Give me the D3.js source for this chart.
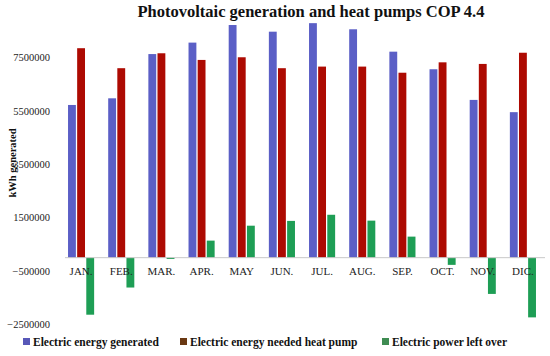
<!DOCTYPE html>
<html>
<head>
<meta charset="utf-8">
<script src="https://cdn.jsdelivr.net/npm/d3@7/dist/d3.min.js"></script>
<style>
  body { margin: 0; background: #fff; }
  svg { display: block; }
  text { font-family: "Liberation Serif", "DejaVu Serif", serif; }
</style>
</head>
<body>
<svg id="chart" width="550" height="356"></svg>
<script>
const months = ["JAN.", "FEB.", "MAR.", "APR.", "MAY", "JUN.", "JUL.", "AUG.", "SEP.", "OCT.", "NOV.", "DIC."];
const generated = [5730000, 5980000, 7640000, 8070000, 8730000, 8480000, 8800000, 8570000, 7730000, 7070000, 5920000, 5460000];
const needed    = [7860000, 7110000, 7670000, 7420000, 7520000, 7110000, 7170000, 7170000, 6940000, 7330000, 7270000, 7690000];
const leftOver  = [-2140000, -1120000, -50000, 640000, 1200000, 1380000, 1610000, 1390000, 790000, -270000, -1360000, -2240000];
const yTicks = [-2500000, -500000, 1500000, 3500000, 5500000, 7500000];
const seriesNames = ["Electric energy generated", "Electric energy needed heat pump", "Electric power left over"];

const barColors = ["#5b5fc6", "#ad0a02", "#1e9e55"];
const legendColors = ["#5858b8", "#6a3812", "#3f8c52"];

const svg = d3.select("#chart");

const x0 = d3.scaleBand().domain(months).range([61, 543]).paddingInner(0.35).paddingOuter(0.175);
const x1 = d3.scaleBand().domain([0, 1, 2]).range([0, x0.bandwidth()]).paddingInner(0.14);
const y = d3.scaleLinear().domain([-2500000, 9500000]).range([324.3, 4.5]);

const series = [generated, needed, leftOver];
const rows = months.map((m, i) => ({ m, vals: series.map(s => s[i]) }));

// Title
svg.append("text")
  .attr("x", 311).attr("y", 17)
  .attr("text-anchor", "middle")
  .attr("font-weight", "bold")
  .attr("font-size", 16.5)
  .attr("fill", "#111")
  .text("Photovoltaic generation and heat pumps COP 4.4");

// Y tick labels
svg.append("g").selectAll("text").data(yTicks).join("text")
  .attr("x", 50)
  .attr("y", d => y(d))
  .attr("dy", "0.35em")
  .attr("text-anchor", "end")
  .attr("font-size", 10.5)
  .attr("fill", "#222")
  .text(d => d3.format("d")(d));

// Y axis title
svg.append("text")
  .attr("transform", `translate(16,${163}) rotate(-90)`)
  .attr("text-anchor", "middle")
  .attr("font-weight", "bold")
  .attr("font-size", 10.5)
  .attr("fill", "#111")
  .text("kWh generated");

// Bars
const groups = svg.append("g").selectAll("g").data(rows).join("g")
  .attr("transform", d => `translate(${x0(d.m)},0)`);

groups.selectAll("rect").data(d => d.vals.map((v, k) => ({ v, k }))).join("rect")
  .attr("x", d => x1(d.k))
  .attr("width", x1.bandwidth())
  .attr("y", d => y(Math.max(0, d.v)))
  .attr("height", d => Math.abs(y(d.v) - y(0)))
  .attr("fill", d => barColors[d.k]);

// Zero line
svg.append("line")
  .attr("x1", 65).attr("x2", 545)
  .attr("y1", y(0)).attr("y2", y(0))
  .attr("stroke", "#c8c8c8").attr("stroke-width", 1);

// X labels
svg.append("g").selectAll("text").data(months).join("text")
  .attr("x", d => x0(d) + x0.bandwidth() / 2)
  .attr("y", 275)
  .attr("text-anchor", "middle")
  .attr("font-size", 11)
  .attr("fill", "#222")
  .text(d => d);

// Legend
const legendX = [23, 180, 382];
const lg = svg.append("g").selectAll("g").data(seriesNames).join("g")
  .attr("transform", (d, i) => `translate(${legendX[i]},342)`);
lg.append("rect").attr("x", 0).attr("y", -4).attr("width", 7).attr("height", 7)
  .attr("fill", (d, i) => legendColors[i]);
lg.append("text").attr("x", 10).attr("y", 4)
  .attr("font-weight", "bold").attr("font-size", 11.5).attr("fill", "#111")
  .text(d => d);
</script>
</body>
</html>
